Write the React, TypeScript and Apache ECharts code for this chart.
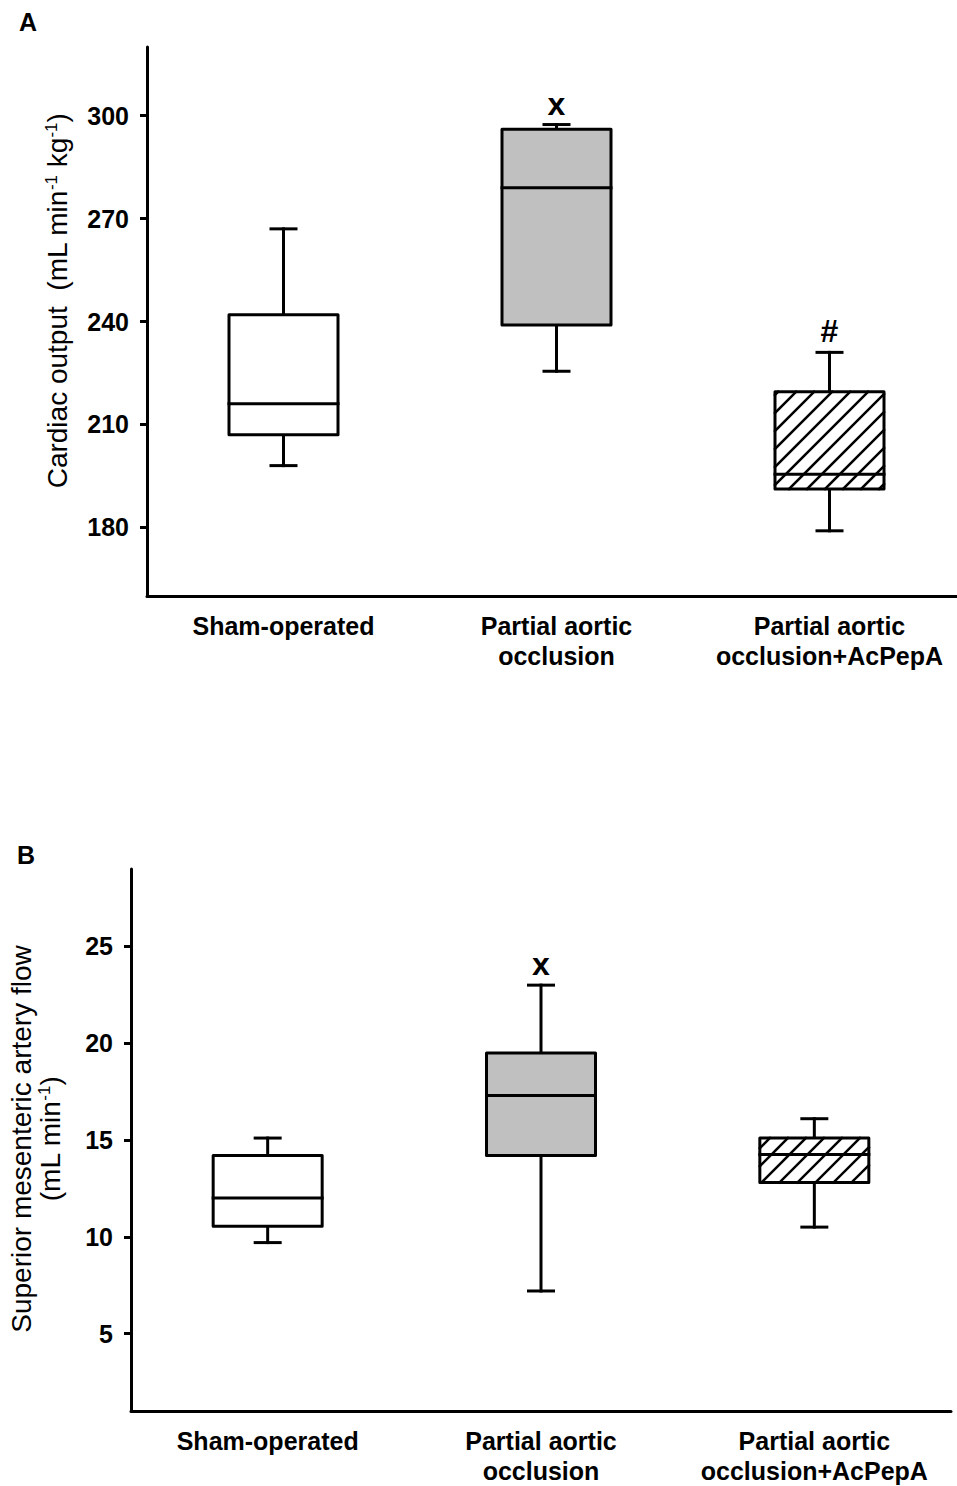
import React, { useEffect, useRef } from 'react';
import * as echarts from 'echarts';

// ---------- data ----------
const categories = ['Sham-operated', 'Partial aortic\nocclusion', 'Partial aortic\nocclusion+AcPepA'];

// Panel A: cardiac output (mL min-1 kg-1)
const cardiacMin = [198, 225.5, 179];
const cardiacQ1 = [207, 239, 191.2];
const cardiacMedian = [216, 279, 195.5];
const cardiacQ3 = [242, 296, 219.5];
const cardiacMax = [267, 297.4, 231];
const cardiacMarks = ['', 'x', '#'];
const cardiacTicks = [180, 210, 240, 270, 300];

// Panel B: superior mesenteric artery flow (mL min-1)
const smaMin = [9.7, 7.2, 10.5];
const smaQ1 = [10.55, 14.2, 12.8];
const smaMedian = [12.0, 17.3, 14.25];
const smaQ3 = [14.2, 19.5, 15.1];
const smaMax = [15.1, 23.0, 16.1];
const smaMarks = ['', 'x', ''];
const smaTicks = [5, 10, 15, 20, 25];

// ---------- styles ----------
const FONT = 'Liberation Sans, Arial, Helvetica, sans-serif';
const FILLS = ['#ffffff', '#c0c0c0', 'hatch'];
const BOX_W = 109;
const CAP_W = 25;
const LW = 3;
const HATCH_STEP = 18;

function buildData(mins: number[], q1: number[], med: number[], q3: number[], maxs: number[]) {
  return categories.map((_, i) => [i, mins[i], q1[i], med[i], q3[i], maxs[i]]);
}

function ln(x1: number, y1: number, x2: number, y2: number, w = LW) {
  return {
    type: 'line',
    shape: { x1, y1, x2, y2 },
    style: { stroke: '#000', lineWidth: w, lineCap: 'square' },
  };
}

function makeRenderItem(marks: string[]) {
  return (params: any, api: any) => {
    const i = params.dataIndex;
    const c = api.value(0);
    const cx = api.coord([c, api.value(3)])[0];
    const yMin = api.coord([c, api.value(1)])[1];
    const yQ1 = api.coord([c, api.value(2)])[1];
    const yMed = api.coord([c, api.value(3)])[1];
    const yQ3 = api.coord([c, api.value(4)])[1];
    const yMax = api.coord([c, api.value(5)])[1];
    const half = BOX_W / 2;
    const capHalf = CAP_W / 2;
    const x0 = cx - half;
    const x1 = cx + half;
    const children: any[] = [];
    children.push(ln(cx, yQ3, cx, yMax));
    children.push(ln(cx, yQ1, cx, yMin));
    children.push(ln(cx - capHalf, yMax, cx + capHalf, yMax));
    children.push(ln(cx - capHalf, yMin, cx + capHalf, yMin));
    const fill = FILLS[i];
    children.push({
      type: 'rect',
      shape: { x: x0, y: yQ3, width: BOX_W, height: yQ1 - yQ3 },
      style: { fill: fill === 'hatch' ? '#ffffff' : fill, stroke: 'none' },
    });
    if (fill === 'hatch') {
      const y0 = yQ3;
      const y1 = yQ1;
      const start = Math.floor((x0 + y0) / HATCH_STEP) * HATCH_STEP;
      for (let k = start; k <= x1 + y1; k += HATCH_STEP) {
        const xa = Math.max(x0, k - y1);
        const xb = Math.min(x1, k - y0);
        if (xb - xa > 0.5) children.push(ln(xa, k - xa, xb, k - xb, 2.5));
      }
    }
    children.push({
      type: 'rect',
      shape: { x: x0, y: yQ3, width: BOX_W, height: yQ1 - yQ3 },
      style: { fill: 'none', stroke: '#000', lineWidth: LW, lineJoin: 'round' },
    });
    children.push(ln(x0, yMed, x1, yMed));
    if (marks[i]) {
      children.push({
        type: 'text',
        x: cx,
        y: yMax - 21,
        style: {
          text: marks[i],
          fill: '#000',
          fontFamily: FONT,
          fontWeight: 'bold',
          fontSize: 32,
          textAlign: 'center',
          textVerticalAlign: 'middle',
        },
      });
    }
    return { type: 'group', children };
  };
}

function xAxisFor(gridIndex: number) {
  return {
    type: 'category',
    gridIndex,
    data: categories,
    boundaryGap: true,
    axisLine: { lineStyle: { color: '#000', width: LW } },
    axisTick: { alignWithLabel: true, length: 7, lineStyle: { color: '#000', width: LW } },
    axisLabel: {
      interval: 0,
      margin: 15,
      color: '#000',
      fontFamily: FONT,
      fontWeight: 'bold',
      fontSize: 25,
      lineHeight: 30,
      verticalAlign: 'top',
    },
    splitLine: { show: false },
  };
}

function yAxisFor(gridIndex: number, min: number, max: number, ticks: number[]) {
  return {
    type: 'value',
    gridIndex,
    min,
    max,
    axisLine: { show: true, lineStyle: { color: '#000', width: LW } },
    axisTick: { show: true, length: 7, customValues: ticks, lineStyle: { color: '#000', width: LW } },
    axisLabel: {
      customValues: ticks,
      margin: 18,
      color: '#000',
      fontFamily: FONT,
      fontWeight: 'bold',
      fontSize: 25,
    },
    splitLine: { show: false },
  };
}

const richName = {
  n: { fontFamily: FONT, fontSize: 28, lineHeight: 29, color: '#000' },
  s: { fontFamily: FONT, fontSize: 17, lineHeight: 17, color: '#000', verticalAlign: 'top' },
};

const option: any = {
  animation: false,
  backgroundColor: '#ffffff',
  grid: [
    { left: 147, top: 47, width: 819, height: 549 },
    { left: 131, top: 869, width: 820, height: 545 },
  ],
  xAxis: [xAxisFor(0), xAxisFor(1)],
  yAxis: [yAxisFor(0, 160, 320, cardiacTicks), yAxisFor(1, 1, 29, smaTicks)],
  series: [
    {
      type: 'custom',
      xAxisIndex: 0,
      yAxisIndex: 0,
      clip: false,
      data: buildData(cardiacMin, cardiacQ1, cardiacMedian, cardiacQ3, cardiacMax),
      encode: { x: 0, y: [1, 2, 3, 4, 5] },
      renderItem: makeRenderItem(cardiacMarks),
    },
    {
      type: 'custom',
      xAxisIndex: 1,
      yAxisIndex: 1,
      clip: false,
      data: buildData(smaMin, smaQ1, smaMedian, smaQ3, smaMax),
      encode: { x: 0, y: [1, 2, 3, 4, 5] },
      renderItem: makeRenderItem(smaMarks),
    },
  ],
  graphic: [
    {
      type: 'text',
      x: 28,
      y: 22,
      style: { text: 'A', fill: '#000', fontFamily: FONT, fontWeight: 'bold', fontSize: 25, textAlign: 'center', textVerticalAlign: 'middle' },
    },
    {
      type: 'text',
      x: 26,
      y: 855,
      style: { text: 'B', fill: '#000', fontFamily: FONT, fontWeight: 'bold', fontSize: 25, textAlign: 'center', textVerticalAlign: 'middle' },
    },
    {
      type: 'text',
      x: 57,
      y: 301,
      rotation: Math.PI / 2,
      style: {
        text: '{n|Cardiac output  (mL min}{s|-1}{n| kg}{s|-1}{n|)}',
        rich: richName,
        textAlign: 'center',
        textVerticalAlign: 'middle',
      },
    },
    {
      type: 'text',
      x: 36,
      y: 1139,
      rotation: Math.PI / 2,
      style: {
        text: '{n|Superior mesenteric artery flow}\n{n|(mL min}{s|-1}{n|)}',
        rich: richName,
        textAlign: 'center',
        textVerticalAlign: 'middle',
      },
    },
  ],
};

export default function App() {
  const ref = useRef<HTMLDivElement>(null);
  useEffect(() => {
    const chart = echarts.init(ref.current as HTMLDivElement, null, { renderer: 'svg' });
    chart.setOption(option);
    return () => chart.dispose();
  }, []);
  return (
    <div
      style={{ position: 'absolute', left: 0, top: 0, width: 957, height: 1486, overflow: 'hidden', background: '#fff' }}
    >
      <div ref={ref} style={{ width: 980, height: 1486 }} />
    </div>
  );
}
